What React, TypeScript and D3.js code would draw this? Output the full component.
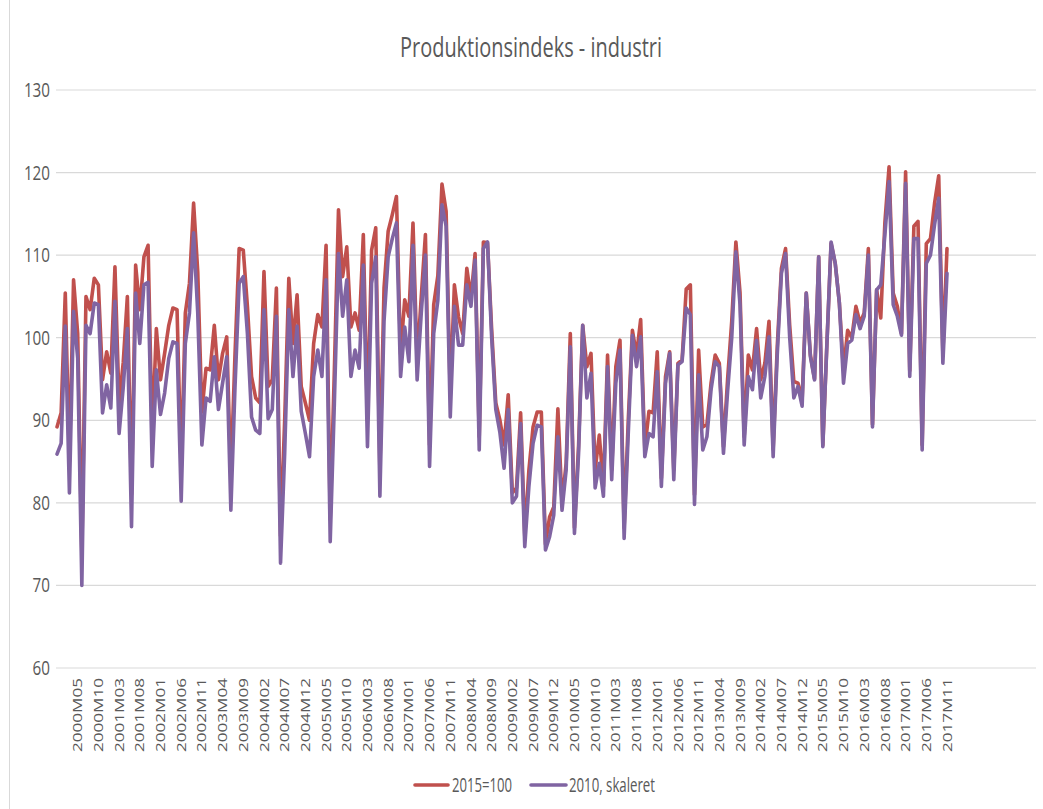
import React from "react";
import * as d3 from "d3";

// Produktionsindeks - industri, monthly values
const firstMonth = "1999M12";

const index2015 = [
  89.2, 90.9, 105.4, 85, 107.0, 100.5, 74, 105.0, 103.4, 107.2, 106.4, 94.9,
  98.3, 95.7, 108.6, 92, 97, 105.0, 81, 108.8, 103.4, 109.8, 111.2, 88,
  101.1, 94.9, 98.1, 101.5, 103.6, 103.4, 84, 103.0, 106.6, 116.3, 108, 91,
  96.3, 96.1, 101.5, 94.9, 98.1, 100.1, 83, 98, 110.8, 110.6, 103.8, 95.3,
  92.7, 92.1, 108.0, 94.1, 94.9, 106.0, 76, 90, 107.2, 99.3, 105.2, 94.1,
  92.1, 90.0, 99.3, 102.8, 101.3, 111.2, 78, 96, 115.5, 107.4, 111.0, 101.3,
  103.0, 100.9, 112.5, 90, 110.6, 113.3, 84, 106, 112.9, 114.9, 117.1, 98,
  104.6, 102.6, 113.9, 97, 105, 112.5, 87, 104, 107.5, 118.6, 115.3, 93,
  106.4, 102.5, 100.5, 108.4, 104.8, 110.2, 88, 111.6, 111.5, 101, 92.1, 90,
  87, 93.1, 81.2, 81.8, 90.9, 76, 84, 89.2, 91.0, 91.0, 75, 78.3,
  79.5, 91.4, 80, 84.8, 100.5, 77, 87, 101.5, 96.5, 98.1, 84, 88.2,
  82, 97.9, 84, 96.5, 99.7, 77, 90, 100.9, 97.9, 102.2, 86.5, 91.1,
  90.9, 98.3, 83, 95.3, 98.3, 84, 96.9, 97.3, 105.9, 106.4, 81, 98.5,
  89.2, 89.5, 94.5, 97.9, 96.9, 86.8, 95, 102, 111.6, 105.5, 88, 97.9,
  96.1, 101.1, 94.9, 96.9, 102.0, 86.5, 99, 108.4, 110.8, 101.5, 94.7, 94.5,
  92.5, 105.4, 97.9, 95, 109.8, 87, 99.5, 111.4, 109.0, 104.2, 96, 100.9,
  100, 103.8, 101.8, 103.0, 110.8, 89.5, 105.8, 102.4, 114, 120.7, 105.4, 103.8,
  100.5, 120.1, 96, 113.5, 114.1, 87, 111.4, 112.0, 116.3, 119.6, 98, 110.8,
];

const index2010 = [
  85.9, 87.2, 101.4, 81.2, 103.2, 97.5, 70.0, 101.5, 100.5, 104.2, 104.0, 90.9,
  94.3, 91.5, 104.4, 88.4, 94, 101.1, 77.1, 105.4, 99.3, 106.4, 106.7, 84.4,
  96.1, 90.7, 93.3, 97.5, 99.5, 99.3, 80.2, 99.3, 103.0, 112.7, 103, 87.0,
  92.7, 92.3, 97.7, 91.3, 94.5, 97.7, 79.1, 94, 106.6, 107.4, 100.5, 90.4,
  88.8, 88.4, 103.4, 90.2, 91.3, 102.6, 72.7, 86, 103.4, 95.3, 101.4, 91.1,
  88.4, 85.6, 95.3, 98.5, 95.3, 107.0, 75.3, 92, 110.2, 102.6, 107.0, 95.3,
  98.5, 96.3, 108.8, 86.8, 106.6, 109.8, 80.8, 102, 109.8, 112.0, 113.9, 95.3,
  101.3, 97.1, 111.2, 94.9, 103, 110.0, 84.4, 100.5, 104.5, 116.1, 113.5, 90.4,
  103.8, 99.1, 99.1, 106.4, 103.8, 109.4, 86.4, 110.8, 111.6, 100, 91.3, 88.5,
  84.2, 91.3, 80.0, 80.8, 89.6, 74.7, 82, 87.2, 89.4, 89.2, 74.3, 75.9,
  78.5, 88.0, 79.1, 84.0, 98.9, 76.3, 86, 101.5, 92.7, 95.7, 81.8, 84.8,
  80.8, 96.5, 82.8, 94.5, 98.5, 75.7, 88.4, 100.3, 96.5, 100.1, 85.6, 88.4,
  88.0, 95.9, 82.0, 94.5, 98.1, 82.8, 96.7, 97.1, 103.6, 102.8, 79.8, 95.5,
  86.4, 88.0, 93.7, 97.1, 96.5, 86.0, 93.5, 100, 110.4, 104, 87.0, 95.3,
  93.7, 99.7, 92.7, 95.3, 100.1, 85.6, 98, 107.8, 110.2, 100, 92.7, 94.1,
  91.7, 105.4, 97.7, 94.9, 109.8, 86.8, 99.3, 111.6, 109.0, 104.2, 94.5, 99.3,
  99.7, 102.8, 101.1, 102.6, 110.0, 89.2, 105.8, 106.4, 112.5, 118.9, 104.0, 102.6,
  100.3, 118.7, 95.3, 112.0, 112.0, 86.4, 109.0, 110.0, 113.7, 116.9, 96.9, 107.8,
];

const tickLabels = [
  "2000M05", "2000M10", "2001M03", "2001M08", "2002M01", "2002M06", "2002M11",
  "2003M04", "2003M09", "2004M02", "2004M07", "2004M12", "2005M05", "2005M10",
  "2006M03", "2006M08", "2007M01", "2007M06", "2007M11", "2008M04", "2008M09",
  "2009M02", "2009M07", "2009M12", "2010M05", "2010M10", "2011M03", "2011M08",
  "2012M01", "2012M06", "2012M11", "2013M04", "2013M09", "2014M02", "2014M07",
  "2014M12", "2015M05", "2015M10", "2016M03", "2016M08", "2017M01", "2017M06",
  "2017M11",
];

const yTicks = [60, 70, 80, 90, 100, 110, 120, 130];
const seriesNames = ["2015=100", "2010, skaleret"];
const colors = ["#c0504d", "#8064a2"];

const monthNo = (s: string) => +s.slice(0, 4) * 12 + +s.slice(5) - 1;
const offset = (s: string) => monthNo(s) - monthNo(firstMonth);

const W = 1043;
const H = 809;
const font = "'Open Sans', 'Noto Sans', sans-serif";
const stretch = 1.4;

export default function App() {
  const x = d3.scaleLinear().domain([0, 236.5]).range([57, 1036]);
  const y = d3.scaleLinear().domain([60, 130]).range([668, 90]);

  const line = d3
    .line<number>()
    .x((_, i) => x(i))
    .y((d) => y(d));

  const series = [index2015, index2010];

  return (
    <svg
      width={W}
      height={H}
      style={{ position: "fixed", left: 0, top: 0, background: "#fff" }}
    >
      <rect width={W} height={H} fill="#fff" />
      <line x1={9.5} x2={9.5} y1={0} y2={H} stroke="#d9d9d9" />

      <text
        transform={`translate(531,57) scale(1,${stretch})`}
        textAnchor="middle"
        fontFamily={font}
        fontSize={19}
        fill="#595959"
        textLength={262}
        lengthAdjust="spacingAndGlyphs"
      >
        Produktionsindeks - industri
      </text>

      {yTicks.map((t) => (
        <g key={t}>
          <line
            x1={x(0) - 1}
            x2={x.range()[1]}
            y1={y(t)}
            y2={y(t)}
            stroke="#d9d9d9"
            strokeWidth={1.2}
          />
          <text
            transform={`translate(50,${y(t) + 7}) scale(1,${stretch})`}
            textAnchor="end"
            fontFamily={font}
            fontSize={14}
            fill="#595959"
            textLength={String(t).length * 8.7}
            lengthAdjust="spacingAndGlyphs"
          >
            {t}
          </text>
        </g>
      ))}

      {tickLabels.map((l) => (
        <text
          key={l}
          transform={`translate(${x(offset(l)) + 4.6},678) rotate(-90)`}
          textAnchor="end"
          fontFamily={font}
          fontSize={13}
          fill="#595959"
          textLength={74}
          lengthAdjust="spacingAndGlyphs"
        >
          {l}
        </text>
      ))}

      {series.map((s, k) => (
        <path
          key={k}
          d={line(s) || ""}
          fill="none"
          stroke={colors[k]}
          strokeWidth={3.6}
          strokeLinejoin="round"
          strokeLinecap="round"
        />
      ))}

      <g fontFamily={font} fontSize={14} fill="#595959">
        <line x1={415} x2={448} y1={785} y2={785} stroke={colors[0]} strokeWidth={3.6} strokeLinecap="round" />
        <text
          transform={`translate(452,792) scale(1,${stretch})`}
          textLength={60}
          lengthAdjust="spacingAndGlyphs"
        >
          {seriesNames[0]}
        </text>
        <line x1={531} x2={566} y1={785} y2={785} stroke={colors[1]} strokeWidth={3.6} strokeLinecap="round" />
        <text
          transform={`translate(569,792) scale(1,${stretch})`}
          textLength={86}
          lengthAdjust="spacingAndGlyphs"
        >
          {seriesNames[1]}
        </text>
      </g>
    </svg>
  );
}
